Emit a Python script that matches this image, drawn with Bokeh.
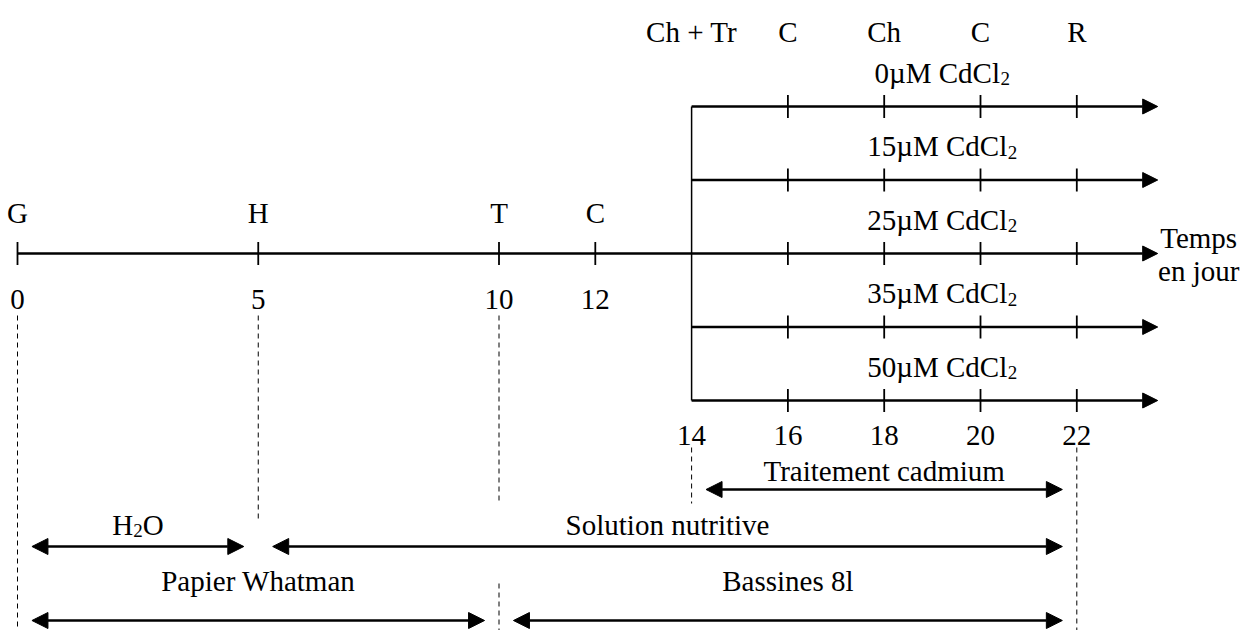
from bokeh.plotting import figure
from bokeh.models import Range1d, Arrow, NormalHead, ColumnDataSource
from bokeh.core.properties import value
from bokeh.embed import file_html
from bokeh.resources import INLINE

# ---------------- data ----------------
germ_days = [0, 5, 10, 12]
germ_events = ["G", "H", "T", "C"]
treat_days = [14, 16, 18, 20, 22]
treat_events = ["Ch + Tr", "C", "Ch", "C", "R"]
cd_doses = [0, 15, 25, 35, 50]          # µM CdCl2
phase_labels = ["Traitement cadmium", "H2O", "Solution nutritive", "Papier Whatman", "Bassines 8l"]
phase_start = [14, 0, 5, 0, 10]
phase_end = [22, 5, 22, 10, 22]
guide_days = [0, 5, 10, 10, 14, 22]
axis_label = ["Temps", "en jour"]

# ---------------- layout ----------------
W, H = 1244, 630
PX_PER_DAY = 48.15
DAY0_PX = 17.0
AXIS_END = 23.68
FONT = value("Liberation Serif")
FS = "29px"
SUB_FS = "19px"
rows_y = [106 + 73.5 * i for i in range(len(cd_doses))]
main_row = rows_y[2]
TICK = 11.5
guide_y0 = [315, 315, 315, 583, 447, 447]
guide_y1 = [630, 522, 500, 630, 503, 630]
phase_tier = [0, 1, 1, 2, 2]
tier_text_y = [470, 524, 580]
tier_arrow_y = [489, 546, 620]
GAP = 0.3
DOSE_LABEL_DAY = 19.2
TOP_Y, EVENT_Y, NUM1_Y, NUM2_Y = 31, 212, 299, 435
AXLAB_Y = [237, 270]
DOSE_ABOVE = 34

p = figure(width=W, height=H, output_backend="svg", toolbar_location=None,
           x_range=Range1d(-DAY0_PX / PX_PER_DAY, (W - DAY0_PX) / PX_PER_DAY),
           y_range=Range1d(H, 0),
           x_axis_type=None, y_axis_type=None, min_border=0)
p.grid.visible = False
p.outline_line_color = None
p.background_fill_color = "white"
p.border_fill_color = "white"

# ---- dashed guides ----
p.segment(x0=guide_days, x1=guide_days, y0=guide_y0, y1=guide_y1,
          line_color="black", line_width=1, line_dash="5 4")

# ---- time arrows (one per dose, the 25 µM one is the main axis) ----
row_start = [14 if i != 2 else 0 for i in range(len(rows_y))]
arr_src = ColumnDataSource(dict(x0=row_start, x1=[AXIS_END] * len(rows_y), y=rows_y))
p.add_layout(Arrow(end=NormalHead(size=15, fill_color="black", line_color="black", line_width=1),
                   x_start="x0", y_start="y", x_end="x1", y_end="y",
                   line_width=2.6, line_color="black", source=arr_src))

# vertical connector at treatment start
p.segment(x0=[treat_days[0]], x1=[treat_days[0]], y0=[rows_y[0]], y1=[rows_y[-1]],
          line_color="black", line_width=1.5)

# ---- ticks ----
tx, ty = [], []
for y in rows_y:
    for d in treat_days[1:]:
        tx.append(d); ty.append(y)
for d in germ_days:
    tx.append(d); ty.append(main_row)
p.segment(x0=tx, x1=tx, y0=[y - TICK for y in ty], y1=[y + TICK for y in ty],
          line_color="black", line_width=1.8)

# ---- event labels ----
txt = dict(text_font=FONT, text_font_size=FS, text_color="black",
           text_align="center", text_baseline="alphabetic")
p.text(x=treat_days, y=[TOP_Y] * len(treat_days), text=treat_events, **txt)
p.text(x=germ_days, y=[EVENT_Y] * len(germ_days), text=germ_events, **txt)
p.text(x=germ_days, y=[NUM1_Y] * len(germ_days), text=[str(d) for d in germ_days], **txt)
p.text(x=treat_days, y=[NUM2_Y] * len(treat_days), text=[str(d) for d in treat_days], **txt)

# ---- dose labels with subscript ----
dose_txt = [f"{d}µM CdCl" for d in cd_doses]
dose_off = [58.0 + 7.25 * (len(str(d)) - 1) for d in cd_doses]
dose_base = [y - DOSE_ABOVE for y in rows_y]
dx = [DOSE_LABEL_DAY] * len(cd_doses)
p.text(x=dx, y=dose_base, text=dose_txt, x_offset=dose_off,
       text_font=FONT, text_font_size=FS, text_color="black",
       text_align="right", text_baseline="alphabetic")
p.text(x=dx, y=dose_base, text=["2"] * len(cd_doses), x_offset=[o + 0.5 for o in dose_off],
       y_offset=6, text_font=FONT, text_font_size=SUB_FS, text_color="black",
       text_align="left", text_baseline="alphabetic")

# ---- axis label ----
p.text(x=[AXIS_END] * 2, y=AXLAB_Y, text=axis_label, x_offset=41, **txt)

# ---- phases ----
ph_x0 = [s + GAP for s in phase_start]
ph_x1 = [e - GAP for e in phase_end]
ph_y = [tier_arrow_y[t] for t in phase_tier]
ph_src = ColumnDataSource(dict(x0=ph_x0, x1=ph_x1, y=ph_y))
p.add_layout(Arrow(start=NormalHead(size=16, fill_color="black", line_color="black", line_width=1),
                   end=NormalHead(size=16, fill_color="black", line_color="black", line_width=1),
                   x_start="x0", y_start="y", x_end="x1", y_end="y",
                   line_width=2.6, line_color="black", source=ph_src))

ph_mid = [(s + e) / 2 for s, e in zip(phase_start, phase_end)]
ph_ty = [tier_text_y[t] for t in phase_tier]
plain = [i for i, l in enumerate(phase_labels) if l != "H2O"]
p.text(x=[ph_mid[i] for i in plain], y=[ph_ty[i] for i in plain],
       text=[phase_labels[i] for i in plain], **txt)
h = phase_labels.index("H2O")
base = dict(text_font=FONT, text_color="black", text_baseline="alphabetic")
p.text(x=[ph_mid[h]], y=[ph_ty[h]], text=["H"], x_offset=-4.75, text_align="right",
       text_font_size=FS, **base)
p.text(x=[ph_mid[h]], y=[ph_ty[h]], text=["2"], x_offset=-4.75, y_offset=6, text_align="left",
       text_font_size=SUB_FS, **base)
p.text(x=[ph_mid[h]], y=[ph_ty[h]], text=["O"], x_offset=4.75, text_align="left",
       text_font_size=FS, **base)

open("out.html", "w").write(file_html(p, INLINE))
